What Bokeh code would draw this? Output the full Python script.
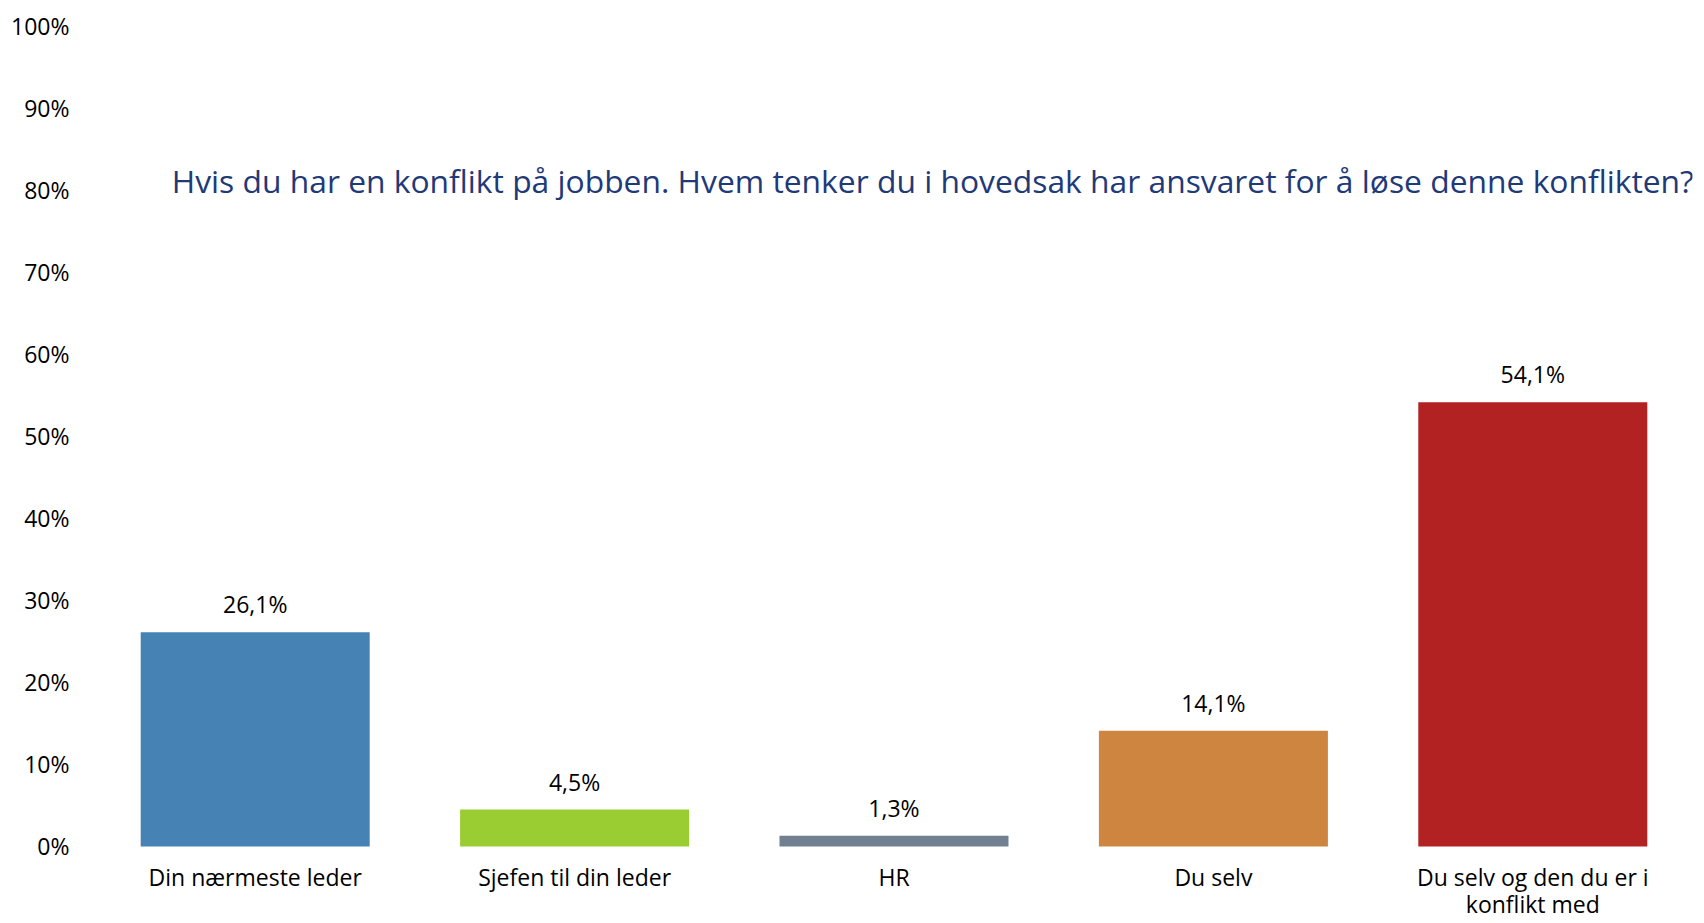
from bokeh.plotting import figure
from bokeh.models import Range1d, FixedTicker, Label, ColumnDataSource
from bokeh.core.properties import value
from bokeh.embed import file_html
from bokeh.resources import INLINE

categories = ["Din nærmeste leder", "Sjefen til din leder", "HR", "Du selv",
              "Du selv og den du er i\nkonflikt med"]
values = [0.261, 0.045, 0.013, 0.141, 0.541]
labels = ["26,1%", "4,5%", "1,3%", "14,1%", "54,1%"]
colors = ["#4682B4", "#9ACD32", "#708090", "#CD853F", "#B22222"]
y_ticks = [0, 0.1, 0.2, 0.3, 0.4, 0.5, 0.6, 0.7, 0.8, 0.9, 1.0]
y_tick_labels = ["0%", "10%", "20%", "30%", "40%", "50%", "60%", "70%", "80%", "90%", "100%"]
title_text = "Hvis du har en konflikt på jobben. Hvem tenker du i hovedsak har ansvaret for å løse denne konflikten?"

FONT = "Open Sans"
ROW1_Y = -0.0375   # first line of category labels, below the zero line
ROW2_Y = -0.0705   # second line of wrapped category labels

xs = list(range(len(categories)))
line1 = [c.split("\n")[0] for c in categories]
line2 = [c.split("\n")[1] if "\n" in c else "" for c in categories]
src = ColumnDataSource(dict(x=xs, top=values, color=colors, label=labels))
cat1 = ColumnDataSource(dict(x=xs, y=[ROW1_Y] * len(xs), t=line1))
idx2 = [i for i, t in enumerate(line2) if t]
cat2 = ColumnDataSource(dict(x=idx2, y=[ROW2_Y] * len(idx2), t=[line2[i] for i in idx2]))

p = figure(width=1704, height=923, output_backend="svg", toolbar_location=None,
           x_range=Range1d(-0.5, 4.5), y_range=Range1d(-0.0938, 1.0),
           min_border_left=95, min_border_right=12, min_border_top=25, min_border_bottom=0)
p.outline_line_color = None
p.xgrid.visible = False
p.ygrid.visible = False
p.xaxis.visible = False

p.vbar(x="x", top="top", bottom=0, width=0.717, color="color", source=src, line_color=None)
p.text(x="x", y="top", text="label", source=src, text_align="center", text_baseline="bottom",
       y_offset=-12, text_font=value(FONT), text_font_size="23px", text_color="#000000")
for s in (cat1, cat2):
    p.text(x="x", y="y", text="t", source=s, text_align="center", text_baseline="middle",
           text_font=value(FONT), text_font_size="23px", text_color="#000000")

p.yaxis.ticker = FixedTicker(ticks=y_ticks)
p.yaxis.major_label_overrides = {t: l for t, l in zip(y_ticks, y_tick_labels)}
p.yaxis.axis_line_color = None
p.yaxis.major_tick_line_color = None
p.yaxis.minor_tick_line_color = None
p.yaxis.major_label_text_font = FONT
p.yaxis.major_label_text_font_size = "23px"
p.yaxis.major_label_text_color = "#000000"
p.yaxis.major_label_standoff = 20

title = Label(x=-0.2613, y=0.8106, text=title_text, text_font=FONT, text_font_size="31.8px",
              text_color="#1F3A78", text_baseline="middle", text_align="left")
p.add_layout(title)

open("out.html", "w").write(file_html(p, INLINE))
